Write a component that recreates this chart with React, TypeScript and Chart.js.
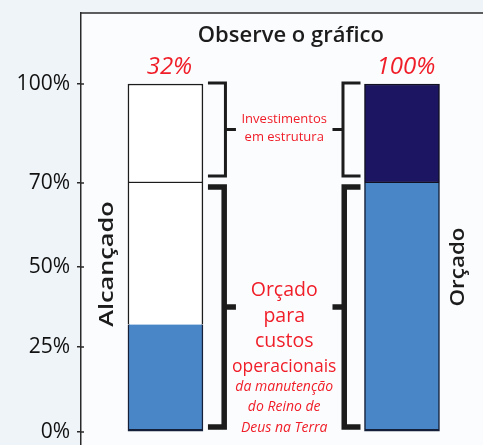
import React, { useEffect, useRef } from 'react';
import { Chart, LinearScale, registerables } from 'chart.js';

// ---- data ----
const CATEGORIES = ['Alcançado', 'Orçado'];
const VALUE_LABELS = ['32%', '100%'];
const OPERATIONAL_DONE = [32, 70];
const OPERATIONAL_OPEN = [38, 0];
const INVESTMENT_DONE = [0, 30];
const INVESTMENT_OPEN = [30, 0];
const Y_TICKS = [0, 25, 50, 70, 100];
const TITLE = 'Observe o gráfico';
const INVESTMENT_TEXT = ['Investimentos', 'em estrutura'];
const OPERATIONAL_TEXT = ['Orçado', 'para', 'custos', 'operacionais'];
const OPERATIONAL_SUBTEXT = ['da manutenção', 'do Reino de', 'Deus na Terra'];
const BRACKET_FROM = [70, 0];
const BRACKET_TO = [100, 70];

// ---- axis layout (non-uniform value axis of the original drawing) ----
const Y_BREAKS = [-4, 0, 25, 50, 70, 100, 122];
const Y_SPANS = [13, 85, 80, 84, 99, 71];

const RED = '#f01e28';
const BLUE = '#4986c7';
const NAVY = '#1c1662';
const PAGE_BG = '#eff4f9';
const PLOT_BG = '#fbfcfe';
const INK = '#1c1c1c';

class SegmentedScale extends LinearScale {
  static id = 'segmented';
  static defaults = LinearScale.defaults;
  toDecimal(value: number) {
    const total = Y_SPANS.reduce((s, v) => s + v, 0);
    let acc = 0;
    for (let i = 0; i < Y_SPANS.length; i++) {
      const a = Y_BREAKS[i];
      const b = Y_BREAKS[i + 1];
      if (value <= b || i === Y_SPANS.length - 1) {
        return (acc + (Y_SPANS[i] * (value - a)) / (b - a)) / total;
      }
      acc += Y_SPANS[i];
    }
    return 1;
  }
  getPixelForValue(value: any) {
    if (value === null || value === undefined || isNaN(value)) return NaN;
    return this.getPixelForDecimal(this.toDecimal(+value));
  }
  getValueForPixel(pixel: number) {
    const total = Y_SPANS.reduce((s, v) => s + v, 0);
    const d = this.getDecimalForPixel(pixel) * total;
    let acc = 0;
    for (let i = 0; i < Y_SPANS.length; i++) {
      if (d <= acc + Y_SPANS[i] || i === Y_SPANS.length - 1) {
        const f = (d - acc) / Y_SPANS[i];
        return Y_BREAKS[i] + f * (Y_BREAKS[i + 1] - Y_BREAKS[i]);
      }
      acc += Y_SPANS[i];
    }
    return Y_BREAKS[Y_BREAKS.length - 1];
  }
}

Chart.register(...registerables, SegmentedScale as any);

function drawBracket(ctx: CanvasRenderingContext2D, arm: number, outer: number, tick: number, y1: number, y2: number, lw: number) {
  const dir = Math.sign(outer - arm);
  const xv = outer - (dir * lw) / 2;
  ctx.lineWidth = lw;
  ctx.lineJoin = 'miter';
  ctx.lineCap = 'butt';
  ctx.beginPath();
  ctx.moveTo(arm, y1);
  ctx.lineTo(xv, y1);
  ctx.lineTo(xv, y2);
  ctx.lineTo(arm, y2);
  ctx.stroke();
  const ym = (y1 + y2) / 2;
  ctx.beginPath();
  ctx.moveTo(xv, ym);
  ctx.lineTo(tick, ym);
  ctx.stroke();
}

const overlayPlugin = {
  id: 'overlay',
  beforeDraw(chart: any) {
    const { ctx, chartArea: a, width, height } = chart;
    ctx.save();
    ctx.fillStyle = PAGE_BG;
    ctx.fillRect(0, 0, width, height);
    ctx.fillStyle = PLOT_BG;
    ctx.fillRect(a.left, a.top, a.right - a.left, a.bottom - a.top);
    ctx.restore();
  },
  afterDraw(chart: any) {
    const { ctx, chartArea: a } = chart;
    const y = chart.scales.y;
    const bars = chart.getDatasetMeta(0).data.map((el: any) => el.getProps(['x', 'width'], true));
    ctx.save();

    // top of frame
    ctx.strokeStyle = '#2a2a2a';
    ctx.lineWidth = 1.5;
    ctx.beginPath();
    ctx.moveTo(a.left - 0.75, a.top);
    ctx.lineTo(a.right, a.top);
    ctx.stroke();

    // small tick marks crossing into the plot
    ctx.lineWidth = 1.5;
    Y_TICKS.forEach((v) => {
      const py = y.getPixelForValue(v);
      ctx.beginPath();
      ctx.moveTo(a.left, py);
      ctx.lineTo(a.left + 3, py);
      ctx.stroke();
    });

    // title
    ctx.fillStyle = INK;
    ctx.textAlign = 'center';
    ctx.textBaseline = 'alphabetic';
    ctx.font = '600 22px "Open Sans"';
    ctx.fillText(TITLE, a.left + (a.right - a.left) * 0.522, a.top + 29);

    // value labels above the bars
    ctx.fillStyle = RED;
    ctx.font = 'italic 24px "Open Sans"';
    VALUE_LABELS.forEach((t, i) => {
      const total = OPERATIONAL_DONE[i] + OPERATIONAL_OPEN[i] + INVESTMENT_DONE[i] + INVESTMENT_OPEN[i];
      ctx.fillText(t, bars[i].x + 4, y.getPixelForValue(total) - 10);
    });

    // rotated category labels
    ctx.fillStyle = INK;
    ctx.font = '600 19px "Open Sans"';
    const rot = (t: string, x: number, yc: number, stretch: number) => {
      ctx.save();
      ctx.translate(x, yc);
      ctx.rotate(-Math.PI / 2);
      ctx.scale(stretch, 1);
      ctx.fillText(t, 0, 0);
      ctx.restore();
    };
    rot(CATEGORIES[0], bars[0].x - bars[0].width / 2 - 15, y.getPixelForValue(50) - 3, 1.33);
    rot(CATEGORIES[1], bars[1].x + bars[1].width / 2 + 25, y.getPixelForValue(50), 1.18);

    // brackets
    const r0 = bars[0].x + bars[0].width / 2;
    const l1 = bars[1].x - bars[1].width / 2;
    const sides = [
      { arm: r0 + 5, outer: r0 + 24, tick: r0 + 33 },
      { arm: l1 - 4, outer: l1 - 23, tick: l1 - 32 },
    ];
    ctx.strokeStyle = INK;
    const mids: number[] = [];
    BRACKET_FROM.forEach((from, k) => {
      const yTop = y.getPixelForValue(BRACKET_TO[k]) + (k === 0 ? -1 : 4);
      const yBot = y.getPixelForValue(from) + (k === 0 ? -7 : -5);
      const lw = k === 0 ? 3 : 5.5;
      sides.forEach((s) => drawBracket(ctx, s.arm, s.outer, s.tick, yTop, yBot, lw));
      mids.push((yTop + yBot) / 2);
    });

    // bracket captions
    const cx = (sides[0].tick + sides[1].tick) / 2;
    ctx.fillStyle = RED;
    ctx.textAlign = 'center';
    ctx.font = '13px "Open Sans"';
    ctx.fillText(INVESTMENT_TEXT[0], cx, mids[0] - 6.5);
    ctx.fillText(INVESTMENT_TEXT[1], cx, mids[0] + 11.5);

    const mainOffsets = [-11, 15, 40, 65];
    const mainSizes = [19.5, 19.5, 19.5, 17.5];
    OPERATIONAL_TEXT.forEach((t, i) => {
      ctx.font = `500 ${mainSizes[i]}px "Open Sans"`;
      ctx.fillText(t, cx, mids[1] + mainOffsets[i]);
    });
    const subOffsets = [84, 104, 125];
    ctx.font = 'italic 14px "Open Sans"';
    OPERATIONAL_SUBTEXT.forEach((t, i) => {
      ctx.fillText(t, cx, mids[1] + subOffsets[i]);
    });

    ctx.restore();
  },
};

const points = (arr: number[]) => arr.map((v, i) => ({ x: i, y: v }));

export default function App() {
  const ref = useRef<HTMLCanvasElement | null>(null);
  useEffect(() => {
    document.body.style.margin = '0';
    document.body.style.background = PAGE_BG;
    if (!ref.current) return;
    const chart = new Chart(ref.current, {
      type: 'bar',
      data: {
        datasets: [
          {
            label: 'Operacional alcançado',
            data: points(OPERATIONAL_DONE),
            backgroundColor: BLUE,
            borderColor: '#14203a',
            borderWidth: { top: 0, left: 1.5, right: 1.5, bottom: 2.5 },
            borderSkipped: false,
          },
          {
            label: 'Operacional pendente',
            data: points(OPERATIONAL_OPEN),
            backgroundColor: '#ffffff',
            borderColor: INK,
            borderWidth: { top: 0, left: 1.5, right: 1.5, bottom: 0 },
            borderSkipped: false,
          },
          {
            label: 'Investimento alcançado',
            data: points(INVESTMENT_DONE),
            backgroundColor: NAVY,
            borderColor: '#111122',
            borderWidth: 1.5,
            borderSkipped: false,
          },
          {
            label: 'Investimento pendente',
            data: points(INVESTMENT_OPEN),
            backgroundColor: '#ffffff',
            borderColor: INK,
            borderWidth: 1.5,
            borderSkipped: false,
          },
        ] as any,
      },
      options: {
        responsive: false,
        animation: false,
        events: [],
        layout: { padding: { top: 13, left: 0, right: 0, bottom: 0 } },
        datasets: { bar: { barThickness: 75 } } as any,
        plugins: {
          legend: { display: false },
          tooltip: { enabled: false },
          title: { display: false },
        },
        scales: {
          x: {
            type: 'linear',
            min: -0.357,
            max: 1.3425,
            display: false,
            stacked: true,
            offset: false,
            bounds: 'data',
          },
          y: {
            type: 'segmented' as any,
            min: Y_BREAKS[0],
            max: Y_BREAKS[Y_BREAKS.length - 1],
            bounds: 'data',
            stacked: true,
            afterBuildTicks: (s: any) => {
              s.ticks = Y_TICKS.map((v) => ({ value: v }));
            },
            afterFit: (s: any) => {
              s.width = 81;
              s.paddingTop = 0;
              s.paddingBottom = 0;
            },
            ticks: {
              autoSkip: false,
              padding: 7,
              color: '#111111',
              font: { family: '"Open Sans"', size: 21 },
              callback: (v: any) => `${v}%`,
            },
            grid: {
              display: true,
              drawOnChartArea: false,
              drawTicks: true,
              tickLength: 4,
              color: '#2a2a2a',
              lineWidth: 1.5,
            },
            border: { display: true, color: '#2a2a2a', width: 1.5 },
          } as any,
        },
      } as any,
      plugins: [overlayPlugin],
    });
    return () => chart.destroy();
  }, []);
  return (
    <div style={{ width: 483, height: 445 }}>
      <canvas ref={ref} width={483} height={445} style={{ display: 'block' }} />
    </div>
  );
}
